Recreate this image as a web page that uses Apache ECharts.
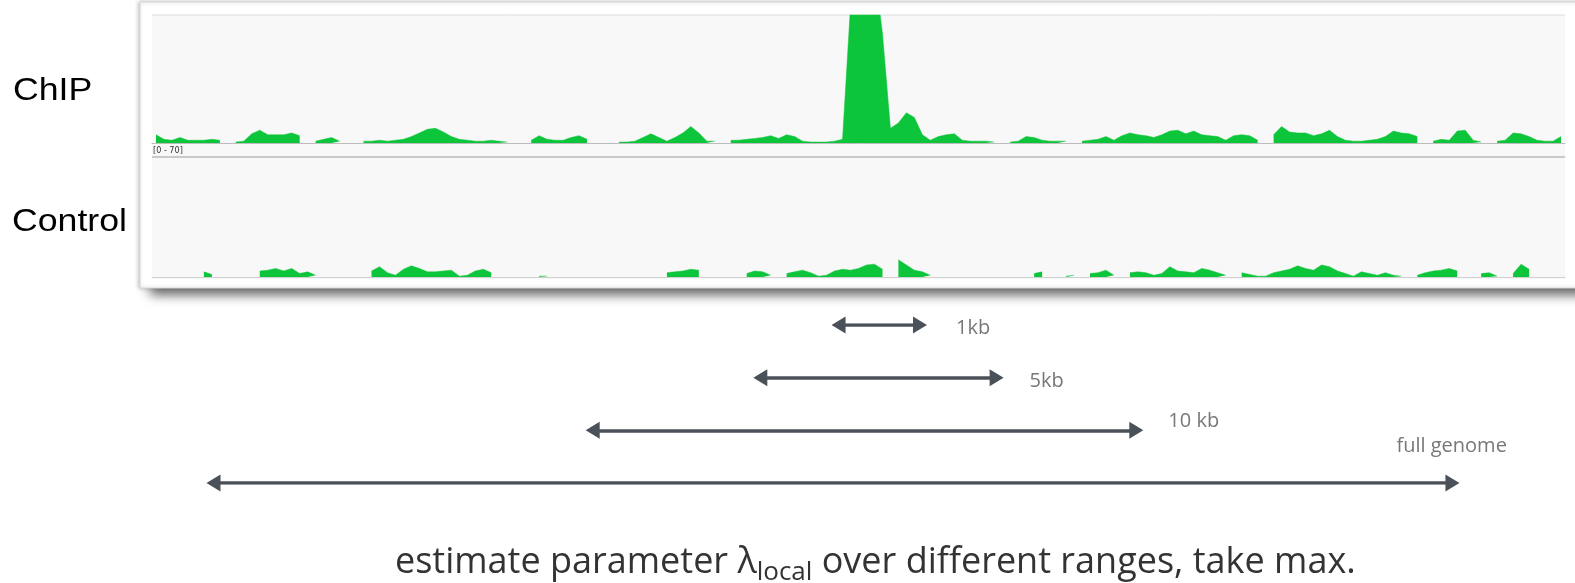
<!DOCTYPE html>
<html>
<head>
<meta charset="utf-8">
<script src="https://cdn.jsdelivr.net/npm/echarts@6/dist/echarts.min.js"></script>
<style>
  html, body { margin: 0; padding: 0; background: #fff; }
  #main { width: 1575px; height: 583px; }
</style>
</head>
<body>
<div id="main"></div>
<script>
// 覆盖度数据 (8px 一个 bin，null 表示无读段)
var chipCoverage = [
  4.5, 2, 1.5, 3, 1.5, 1.5, 1.5, 2, 1.5, null,
  0.5, 1, 5, 7, 4.5, 4.5, 4.5, 5.5, 4, null,
  1, 2, 3, 1, null, null, 1, 1, 1.5, 1,
  1.5, 2, 3.5, 5.5, 7.5, 8, 6, 3.5, 2, 1.5,
  1, 1, 1.5, 1, 0.5, null, null, 1.5, 4, 2,
  1.5, 1.5, 3, 4, 2, null, null, null, 0.5, 0.5,
  1, 3, 5, 3, 1, 3, 5.5, 9, 5.5, 1,
  1, null, 1.5, 1.5, 2, 2.5, 3, 4, 2.5, 4.5,
  3.5, 1, 0.5, 0.5, 0.5, 1, 2, 75, 95, 95,
  95, 60, 8, 11, 16.5, 14, 4.5, 1.5, 3.5, 4.5,
  5, 1.5, 1, 1, 1, 0.5, null, 0.5, 1, 3.5,
  3, 1.5, 1, 1, 1, null, 1, 1.5, 2, 3.5,
  1.5, 4, 5.5, 4.5, 4, 3, 4.5, 6.5, 7, 5,
  6.5, 4.5, 4, 3.5, 1.5, 4, 4.5, 4, 1.5, null,
  4.5, 9, 6, 5.5, 5.5, 4, 5, 7, 3.5, 1.5,
  1, 1, 1.5, 2, 3.5, 6.5, 5.5, 5, 3.5, null,
  1, 2, 1.5, 6.5, 7, 1.5, 0.5, null, 1, 1.5,
  5.5, 5, 3.5, 1.5, 1, 1, 3.5
];
var controlCoverage = [
  null, null, null, null, null, null, 3, 1.5, null, null,
  null, null, null, 3.5, 4, 5, 3.5, 5, 2, 3,
  1, null, null, null, 1, null, null, 3.5, 6, 2.5,
  1, 4.5, 6.5, 5, 3, 3, 3.5, 4, 0.5, 1,
  3.5, 4.5, 2.5, null, null, null, null, null, 0.5, 0.5,
  null, null, null, null, null, null, null, null, null, null,
  null, null, null, null, 2.5, 3, 3.5, 4.5, 4, null,
  0.5, null, null, null, 2, 3.5, 3, 1, null, 2,
  3, 4, 2.5, 0.5, 1, 3.5, 4.5, 4, 5, 7,
  7.5, 4.5, null, 10, 7, 4, 3, 1, null, null,
  null, null, null, null, null, null, null, 0.5, null, null,
  2, 3, null, null, 0.5, 1, null, 2, 2.5, 4,
  1, null, 2.5, 3, 2.5, 1, 2, 6, 3.5, 3,
  2.5, 5, 4, 2.5, 1, null, 2.5, 1.5, 0.5, 0.5,
  2.5, 3.5, 4.5, 6.5, 5, 4, 7, 6, 3.5, 2,
  0.5, 3, 2, 1, 2.5, 1, 0.5, null, 1, 2.5,
  3.5, 4, 5, 3.5, null, null, 2, 2.5, 0.5, null,
  2, 7.5, 4.5, null, null, null, null
];
var trackNames = ['ChIP', 'Control'];
var trackRange = [0, 70];

// 估计 λlocal 的窗口 (单位: bin)
var rangeLabels = ['1kb', '5kb', '10 kb', 'full genome'];
var rangeStart = [86.0, 76.2, 55.2, 7.7];
var rangeEnd = [96.2, 105.8, 123.3, 162.9];

var caption = 'estimate parameter λ';

var bins = chipCoverage.map(function (v, i) { return i; });

var myChart = echarts.init(document.getElementById('main'));

var green = '#0cc53a';
var arrowColor = '#4b5159';
var labelOffsets = [[31, 3.5], [28, 3.5], [27, -9.5], [-61, -36.5]];

// 箭头两端的三角
var heads = [];
rangeLabels.forEach(function (name, i) {
  heads.push({ value: [rangeStart[i], i], symbolRotate: 90 });
  heads.push({ value: [rangeEnd[i], i], symbolRotate: -90 });
});

var option = {
  animation: false,
  backgroundColor: '#fff',
  graphic: [
    // 面板阴影
    { type: 'rect', z: -10, shape: { x: 150, y: 276, width: 1460, height: 10 },
      style: { fill: '#555', shadowBlur: 12, shadowColor: 'rgba(0,0,0,0.75)', shadowOffsetY: 8 } },
    { type: 'rect', z: -9, shape: { x: 140, y: 2, width: 1470, height: 286 },
      style: { fill: '#fff', stroke: '#d8d8d8', lineWidth: 1, shadowBlur: 4, shadowColor: 'rgba(0,0,0,0.25)', shadowOffsetX: -1 } },
    { type: 'rect', z: -8, shape: { x: 152, y: 15, width: 1413, height: 264 },
      style: { fill: '#f8f8f8' } },
    { type: 'line', z: -7, shape: { x1: 152, y1: 15, x2: 1565, y2: 15 },
      style: { stroke: '#dcdcdc', lineWidth: 1 } },
    { type: 'line', z: -7, shape: { x1: 152, y1: 157, x2: 1565, y2: 157 },
      style: { stroke: '#c9c9c9', lineWidth: 2 } },
    { type: 'text', left: 153, top: 146,
      style: { text: '[' + trackRange[0] + ' - ' + trackRange[1] + ']', fontSize: 9, fill: '#333', fontFamily: 'DejaVu Sans Condensed' } },
    { type: 'text', x: 13, y: 76, scaleX: 1.15,
      style: { text: trackNames[0], fontSize: 31, fill: '#000', fontFamily: 'Liberation Sans' } },
    { type: 'text', x: 12, y: 207, scaleX: 1.15,
      style: { text: trackNames[1], fontSize: 31, fill: '#000', fontFamily: 'Liberation Sans' } },
    { type: 'text', left: 395, top: 545,
      style: {
        text: '{t|' + caption + '}{s|local}{t| over different ranges, take max.}',
        rich: {
          t: { fontSize: 36, fill: '#333', fontFamily: 'Open Sans', verticalAlign: 'bottom' },
          s: { fontSize: 26, fill: '#333', fontFamily: 'Open Sans', verticalAlign: 'bottom', padding: [0, 0, -5, 0] }
        }
      } }
  ],
  grid: [
    { left: 152, top: 15, width: 1413, height: 128 },
    { left: 152, top: 157, width: 1413, height: 120 },
    { left: 152, top: 325, width: 1413, height: 158 }
  ],
  xAxis: [
    { type: 'category', gridIndex: 0, data: bins, axisLine: { lineStyle: { color: '#bdbdbd' } }, axisTick: { show: false }, axisLabel: { show: false } },
    { type: 'category', gridIndex: 1, data: bins, axisLine: { lineStyle: { color: '#d0d0d0' } }, axisTick: { show: false }, axisLabel: { show: false } },
    { type: 'value', gridIndex: 2, min: 0, max: bins.length, show: false }
  ],
  yAxis: [
    { type: 'value', gridIndex: 0, min: trackRange[0], max: trackRange[1], show: false },
    { type: 'value', gridIndex: 1, min: trackRange[0], max: trackRange[1], show: false },
    { type: 'value', gridIndex: 2, min: 0, max: rangeLabels.length - 1, inverse: true, show: false }
  ],
  series: [
    {
      name: trackNames[0], type: 'line', xAxisIndex: 0, yAxisIndex: 0,
      data: chipCoverage, showSymbol: false, connectNulls: false,
      lineStyle: { width: 0.5, color: green }, areaStyle: { color: green, opacity: 1 }
    },
    {
      name: trackNames[1], type: 'line', xAxisIndex: 1, yAxisIndex: 1,
      data: controlCoverage, showSymbol: false, connectNulls: false,
      lineStyle: { width: 0.5, color: green }, areaStyle: { color: green, opacity: 1 }
    },
    {
      type: 'lines', coordinateSystem: 'cartesian2d', xAxisIndex: 2, yAxisIndex: 2,
      symbol: 'none',
      lineStyle: { color: arrowColor, width: 3.5, opacity: 1 },
      data: rangeLabels.map(function (name, i) {
        return { coords: [[rangeStart[i], i], [rangeEnd[i], i]] };
      })
    },
    {
      type: 'scatter', xAxisIndex: 2, yAxisIndex: 2, symbol: 'triangle', symbolSize: [17, 14],
      itemStyle: { color: arrowColor, opacity: 1 }, data: heads
    },
    {
      type: 'scatter', xAxisIndex: 2, yAxisIndex: 2, symbolSize: 0,
      data: rangeLabels.map(function (name, i) {
        return {
          value: [rangeEnd[i], i], name: name,
          label: { show: true, position: 'right', formatter: '{b}', offset: labelOffsets[i],
            fontSize: 20, color: '#555', fontFamily: 'Open Sans' }
        };
      })
    }
  ]
};

myChart.setOption(option);
</script>
</body>
</html>
